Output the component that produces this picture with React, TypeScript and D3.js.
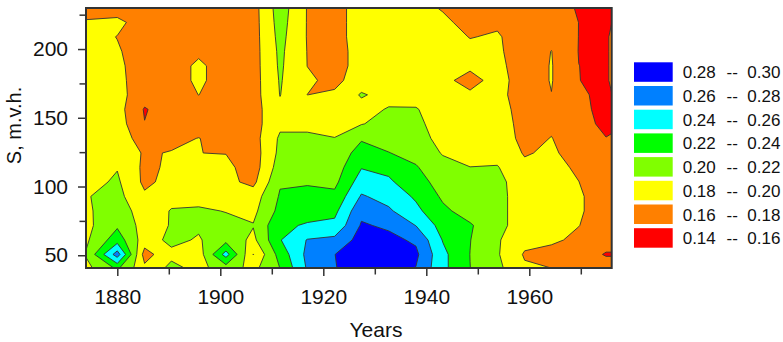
import React, { useEffect, useRef } from 'react';
import * as d3 from 'd3';

// grid nodes: columns are years, rows are S levels (top row = 230)
const years = [1874, 1880, 1885.3, 1890.5, 1895.8, 1901.1, 1906.4, 1911.6, 1916.9, 1922.2, 1927.4, 1932.7, 1938, 1943.2, 1948.5, 1953.8, 1959.1, 1964.3, 1969.6, 1974.9, 1976];
const depths = [230, 219.4, 208.9, 198.3, 187.8, 177.2, 166.7, 156.1, 145.6, 135, 124.4, 113.9, 103.3, 92.8, 82.2, 71.7, 61.1, 50.6, 40];

const grid = [
  [0.167, 0.17, 0.168, 0.17, 0.17, 0.17, 0.172, 0.21, 0.179, 0.172, 0.19, 0.19, 0.188, 0.178, 0.17, 0.17, 0.17, 0.17, 0.158, 0.152, 0.152],
  [0.183, 0.185, 0.17, 0.17, 0.172, 0.17, 0.172, 0.208, 0.179, 0.172, 0.19, 0.19, 0.19, 0.185, 0.172, 0.177, 0.17, 0.17, 0.1599, 0.152, 0.1598],
  [0.188, 0.1795, 0.17, 0.17, 0.172, 0.17, 0.172, 0.206, 0.179, 0.172, 0.19, 0.19, 0.19, 0.188, 0.1793, 0.182, 0.17, 0.175, 0.1598, 0.157, 0.163],
  [0.188, 0.182, 0.17, 0.17, 0.176, 0.17, 0.172, 0.204, 0.1795, 0.17, 0.19, 0.19, 0.19, 0.19, 0.185, 0.183, 0.17, 0.1803, 0.1595, 0.157, 0.163],
  [0.188, 0.184, 0.17, 0.17, 0.184, 0.17, 0.172, 0.203, 0.1798, 0.17, 0.19, 0.19, 0.19, 0.188, 0.184, 0.185, 0.17, 0.181, 0.1601, 0.157, 0.163],
  [0.188, 0.185, 0.17, 0.17, 0.184, 0.17, 0.172, 0.2015, 0.183, 0.175, 0.19, 0.19, 0.19, 0.185, 0.173, 0.1876, 0.17, 0.181, 0.1602, 0.157, 0.163],
  [0.188, 0.187, 0.168, 0.17, 0.1802, 0.17, 0.172, 0.2005, 0.1799, 0.183, 0.202, 0.193, 0.193, 0.19, 0.1834, 0.186, 0.17, 0.1797, 0.165, 0.152, 0.1595],
  [0.188, 0.188, 0.1585, 0.17, 0.17, 0.17, 0.172, 0.196, 0.19, 0.19, 0.193, 0.2015, 0.2012, 0.19, 0.19, 0.19, 0.17, 0.172, 0.167, 0.152, 0.152],
  [0.188, 0.19, 0.1605, 0.17, 0.17, 0.17, 0.172, 0.196, 0.196, 0.193, 0.199, 0.207, 0.205, 0.19, 0.19, 0.19, 0.173, 0.177, 0.168, 0.155, 0.156],
  [0.188, 0.192, 0.17, 0.175, 0.1805, 0.172, 0.172, 0.203, 0.203, 0.2005, 0.218, 0.213, 0.21, 0.192, 0.19, 0.19, 0.175, 0.1805, 0.17, 0.1605, 0.162],
  [0.188, 0.193, 0.178, 0.181, 0.1801, 0.1795, 0.17, 0.205, 0.207, 0.207, 0.228, 0.2205, 0.214, 0.1985, 0.195, 0.193, 0.1785, 0.183, 0.172, 0.168, 0.168],
  [0.19, 0.199, 0.176, 0.183, 0.183, 0.185, 0.17, 0.21, 0.21, 0.21, 0.239, 0.235, 0.2215, 0.207, 0.2002, 0.2012, 0.184, 0.186, 0.177, 0.168, 0.168],
  [0.193, 0.203, 0.176, 0.186, 0.186, 0.185, 0.175, 0.218, 0.218, 0.215, 0.25, 0.243, 0.228, 0.212, 0.205, 0.205, 0.19, 0.19, 0.1802, 0.168, 0.168],
  [0.199, 0.206, 0.183, 0.195, 0.195, 0.192, 0.19, 0.222, 0.226, 0.225, 0.262, 0.253, 0.237, 0.217, 0.208, 0.206, 0.19, 0.19, 0.183, 0.168, 0.168],
  [0.197, 0.211, 0.19, 0.201, 0.202, 0.1995, 0.195, 0.226, 0.232, 0.235, 0.275, 0.263, 0.245, 0.224, 0.212, 0.206, 0.19, 0.19, 0.183, 0.168, 0.168],
  [0.195, 0.217, 0.192, 0.201, 0.203, 0.204, 0.201, 0.236, 0.242, 0.245, 0.282, 0.277, 0.2595, 0.232, 0.222, 0.206, 0.19, 0.19, 0.1805, 0.168, 0.168],
  [0.197, 0.231, 0.19, 0.205, 0.198, 0.214, 0.195, 0.239, 0.261, 0.265, 0.288, 0.285, 0.277, 0.239, 0.2205, 0.202, 0.186, 0.184, 0.175, 0.168, 0.168],
  [0.202, 0.2695, 0.172, 0.195, 0.19, 0.248, 0.1795, 0.228, 0.265, 0.2798, 0.29, 0.292, 0.284, 0.245, 0.2198, 0.202, 0.178, 0.172, 0.17, 0.1585, 0.1585],
  [0.194, 0.222, 0.185, 0.206, 0.195, 0.208, 0.195, 0.22, 0.262, 0.279, 0.29, 0.292, 0.279, 0.245, 0.2202, 0.205, 0.183, 0.1805, 0.17, 0.17, 0.17],
];

const thresholds = [0.14, 0.16, 0.18, 0.2, 0.22, 0.24, 0.26, 0.28];
const bandColors = ['#ff0000', '#ff8000', '#ffff00', '#80ff00', '#00ff00', '#00ffff', '#0080ff', '#0000ff'];
const legendLow = ['0.28', '0.26', '0.24', '0.22', '0.20', '0.18', '0.16', '0.14'];
const legendHigh = ['0.30', '0.28', '0.26', '0.24', '0.22', '0.20', '0.18', '0.16'];

const xMajor = [1880, 1900, 1920, 1940, 1960];
const xMinor = [1890, 1910, 1930, 1950, 1970];
const yMajor = [50, 100, 150, 200];
const yMinor = [75, 125, 175, 225];

const font = '"Liberation Sans", Arial, Helvetica, sans-serif';

export default function App() {
  const svgRef = useRef<SVGSVGElement>(null);

  useEffect(() => {
    if (!svgRef.current) return;
    const svg = d3.select(svgRef.current);
    svg.selectAll('*').remove();

    const x = d3.scaleLinear().domain([1874, 1976]).range([86.4, 611.7]);
    const y = d3.scaleLinear().domain([40, 230]).range([269, 7.8]);

    const n = years.length;
    const m = depths.length;
    const colYear = d3.scaleLinear().domain(d3.range(n)).range(years).clamp(true);
    const rowDepth = d3.scaleLinear().domain(d3.range(m)).range(depths).clamp(true);

    const contours = d3.contours().size([n, m]).thresholds(thresholds)(grid.flat());
    const proj = d3.geoTransform({
      point(px: number, py: number) {
        // @ts-ignore
        this.stream.point(x(colYear(px - 0.5)), y(rowDepth(py - 0.5)));
      },
    });
    const path = d3.geoPath(proj as any);

    svg.append('defs').append('clipPath').attr('id', 'plotclip')
      .append('rect').attr('x', 86).attr('y', 8).attr('width', 526).attr('height', 260);

    const plot = svg.append('g').attr('clip-path', 'url(#plotclip)');
    plot.selectAll('path.fill')
      .data(contours)
      .join('path')
      .attr('class', 'fill')
      .attr('d', d => path(d as any))
      .attr('fill', (d, i) => bandColors[i]);
    plot.selectAll('path.line')
      .data(contours.slice(1))
      .join('path')
      .attr('class', 'line')
      .attr('d', d => path(d as any))
      .attr('fill', 'none')
      .attr('stroke', '#333')
      .attr('stroke-width', 0.9);

    // frame
    svg.append('rect')
      .attr('x', 86).attr('y', 8).attr('width', 525.7).attr('height', 260)
      .attr('fill', 'none').attr('stroke', '#333').attr('stroke-width', 2);

    // x axis
    const gx = svg.append('g').attr('transform', 'translate(0,268)');
    gx.call(d3.axisBottom(x).tickValues(xMajor).tickSize(8).tickPadding(13).tickFormat(d3.format('d')))
      .call(g => g.select('.domain').remove());
    gx.append('g').call(d3.axisBottom(x).tickValues(xMinor).tickSize(6.5).tickFormat(() => ''))
      .call(g => g.select('.domain').remove());
    gx.selectAll('.tick line').attr('stroke', '#333').attr('stroke-width', 1.5);
    gx.selectAll('.tick text').attr('font-size', 21).attr('font-family', font).attr('fill', '#111');

    // y axis
    const gy = svg.append('g').attr('transform', 'translate(86,0)');
    gy.call(d3.axisLeft(y).tickValues(yMajor).tickSize(8).tickPadding(10).tickFormat(d3.format('d')))
      .call(g => g.select('.domain').remove());
    gy.append('g').call(d3.axisLeft(y).tickValues(yMinor).tickSize(6.5).tickFormat(() => ''))
      .call(g => g.select('.domain').remove());
    gy.selectAll('.tick line').attr('stroke', '#333').attr('stroke-width', 1.5);
    gy.selectAll('.tick text').attr('font-size', 21).attr('font-family', font).attr('fill', '#111');

    svg.append('text')
      .attr('x', 376).attr('y', 336.5)
      .attr('text-anchor', 'middle')
      .attr('font-size', 21).attr('font-family', font).attr('fill', '#111')
      .text('Years');

    svg.append('text')
      .attr('transform', 'translate(21,125.5) rotate(-90)')
      .attr('text-anchor', 'middle')
      .attr('font-size', 20).attr('font-family', font).attr('fill', '#111')
      .text('S, m.v.h.');

    // legend
    const legend = svg.append('g');
    legendLow.forEach((lo, k) => {
      const top = 62.3 + k * 23.7;
      legend.append('rect')
        .attr('x', 634).attr('y', top).attr('width', 38.7).attr('height', 19.5)
        .attr('fill', bandColors[bandColors.length - 1 - k]);
      const base = top + 16;
      legend.append('text').attr('x', 682.7).attr('y', base)
        .attr('font-size', 17).attr('font-family', font).attr('fill', '#111').text(lo);
      legend.append('text').attr('x', 726.5).attr('y', base)
        .attr('font-size', 17).attr('font-family', font).attr('fill', '#111').text('--');
      legend.append('text').attr('x', 747.3).attr('y', base)
        .attr('font-size', 17).attr('font-family', font).attr('fill', '#111').text(legendHigh[k]);
    });
  }, []);

  return (
    <svg
      ref={svgRef}
      width={783}
      height={342}
      style={{ position: 'absolute', left: 0, top: 0, background: '#fff' }}
    />
  );
}
